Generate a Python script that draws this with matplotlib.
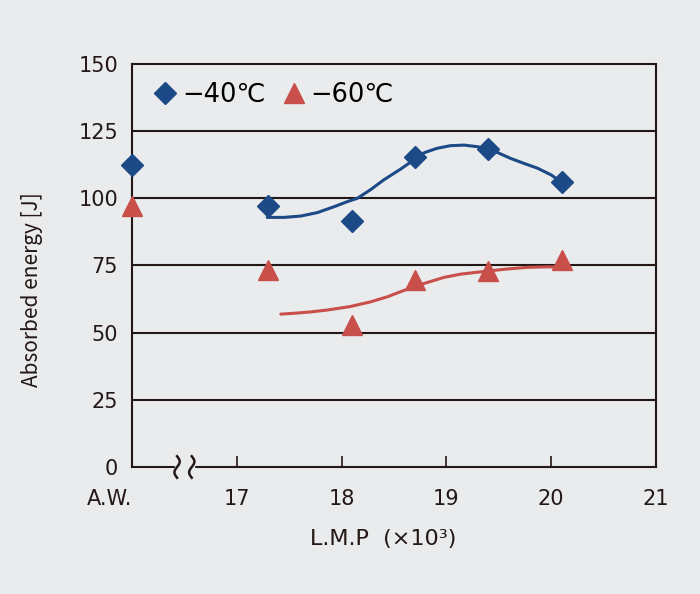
import matplotlib.pyplot as plt
import numpy as np

plt.rcParams['font.family'] = ['DejaVu Sans', 'Noto Sans CJK JP']
plt.rcParams['axes.unicode_minus'] = False

# measured points (A.W. is drawn at x=16)
x40 = [16.0, 17.3, 18.1, 18.7, 19.4, 20.1]
y40 = [112.5, 97.0, 91.5, 115.5, 118.5, 106.0]
x60 = [16.0, 17.3, 18.1, 18.7, 19.4, 20.1]
y60 = [97.0, 73.5, 53.0, 69.5, 73.0, 77.0]

# trend curves
cx40 = [17.29, 17.45, 17.61, 17.77, 17.93, 18.05, 18.15, 18.28, 18.40, 18.56, 18.69,
        18.79, 18.91, 19.04, 19.17, 19.30, 19.36, 19.49, 19.61, 19.74, 19.87, 20.00, 20.09]
cy40 = [92.9, 92.9, 93.4, 94.7, 96.9, 98.7, 100.0, 103.3, 106.8, 110.8, 114.3,
        117.0, 118.6, 119.6, 119.8, 119.2, 118.6, 117.0, 114.9, 113.0, 111.2, 108.7, 106.2]
cx60 = [17.42, 17.54, 17.70, 17.86, 18.08, 18.28, 18.44, 18.56, 18.69, 18.82, 18.98,
        19.14, 19.39, 19.58, 19.77, 19.97, 20.15]
cy60 = [56.9, 57.2, 57.7, 58.4, 59.7, 61.5, 63.4, 65.2, 67.1, 68.7, 70.6,
        71.8, 72.9, 73.7, 74.3, 74.5, 74.4]

xticks = [16, 17, 18, 19, 20, 21]
xlabels = ['A.W.', '17', '18', '19', '20', '21']
yticks = [0, 25, 50, 75, 100, 125, 150]

bg = '#e9ebec'
blue = '#1c4a87'
red = '#c84f4a'
ink = '#231815'

fig = plt.figure(figsize=(7, 5.94), dpi=100, facecolor=bg)
ax = fig.add_axes([0.1886, 0.2138, 0.7485, 0.6785], facecolor=bg)

for v in yticks[1:-1]:
    ax.axhline(v, color=ink, lw=1.5, zorder=1)

ax.plot(cx40, cy40, color=blue, lw=2.2, zorder=2, solid_capstyle='round')
ax.plot(cx60, cy60, color=red, lw=2.2, zorder=2, solid_capstyle='round')
ax.plot(x40, y40, 'D', color=blue, ms=11, ls='none', zorder=3, clip_on=False, label='−40℃')
ax.plot(x60, y60, '^', color=red, ms=14, ls='none', zorder=3, clip_on=False, label='−60℃')

ax.set_xlim(16, 21)
ax.set_ylim(0, 150)
ax.set_xticks(xticks)
ax.set_xticklabels(xlabels, fontsize=15)
ax.set_yticks(yticks)
ax.tick_params(axis='y', length=0, labelsize=15, pad=10, colors=ink)
ax.tick_params(axis='x', direction='in', length=8, width=1.2, pad=16, colors=ink)
ax.get_xticklabels()[0].set_ha('right')
ax.xaxis.get_major_ticks()[0].tick1line.set_visible(False)
ax.xaxis.get_major_ticks()[-1].tick1line.set_visible(False)

for s in ax.spines.values():
    s.set_color(ink)
    s.set_linewidth(1.5)

# axis break mark between A.W. and 17
bx = 16.5
ax.add_patch(plt.Rectangle((bx - 0.09, -4), 0.18, 8, color=bg, clip_on=False, zorder=4))
t = np.linspace(-1, 1, 30)
for dx in (-0.07, 0.07):
    ax.plot(bx + dx + 0.025 * np.sin(t * np.pi), t * 4, color=ink, lw=1.8, clip_on=False, zorder=5)

ax.set_xlabel('L.M.P  (×10³)', fontsize=16, color=ink)
ax.xaxis.set_label_coords(0.48, -0.155)
ax.set_ylabel('Absorbed energy [J]', fontsize=15, color=ink,
              family=['Noto Sans CJK JP', 'DejaVu Sans'])
ax.yaxis.set_label_coords(-0.17, 0.44)

ax.legend(loc='upper left', ncol=2, frameon=False, fontsize=18.5, handletextpad=0.05,
          columnspacing=0.5, borderaxespad=0.3, handlelength=1.2,
          bbox_to_anchor=(0.0, 1.0))

fig.savefig('out.png', dpi=100, facecolor=bg)
